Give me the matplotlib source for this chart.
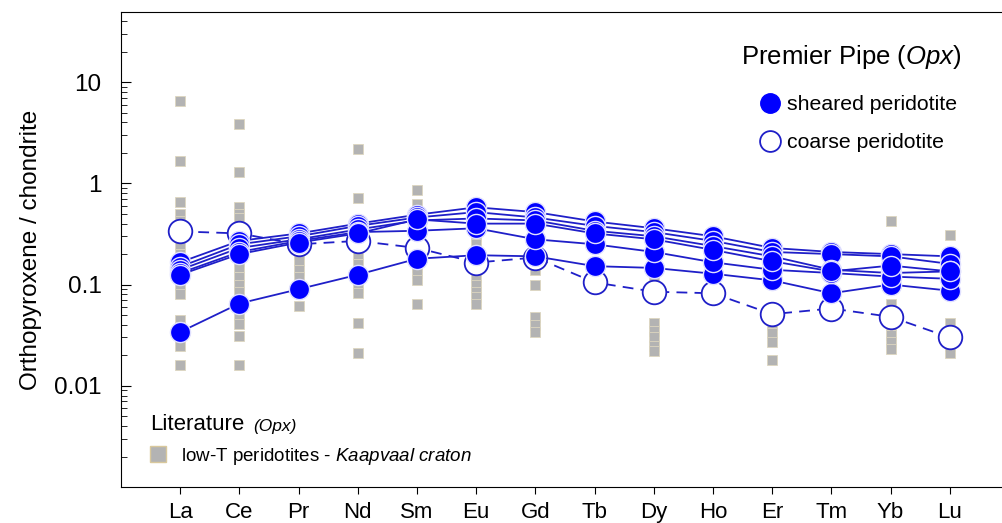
import matplotlib
matplotlib.use("Agg")
import matplotlib.pyplot as plt
from matplotlib.lines import Line2D

plt.rcParams['font.family'] = ['Liberation Sans', 'DejaVu Sans']
plt.rcParams['mathtext.fontset'] = 'custom'
plt.rcParams['mathtext.rm'] = 'Liberation Sans'
plt.rcParams['mathtext.it'] = 'Liberation Sans:italic'

elements = ["La", "Ce", "Pr", "Nd", "Sm", "Eu", "Gd", "Tb", "Dy", "Ho", "Er", "Tm", "Yb", "Lu"]

# literature low-T peridotites (Kaapvaal), values per element
lit_La = [6.5, 1.65, 0.65, 0.5, 0.42, 0.3, 0.25, 0.2, 0.16, 0.14, 0.12, 0.1, 0.081, 0.045, 0.038, 0.03, 0.025, 0.016]
lit_Ce = [3.9, 1.3, 0.58, 0.5, 0.45, 0.35, 0.3, 0.25, 0.2, 0.17, 0.15, 0.12, 0.1, 0.085, 0.07, 0.06, 0.05, 0.041, 0.031, 0.016]
lit_Pr = [0.32, 0.28, 0.25, 0.2, 0.17, 0.14, 0.12, 0.1, 0.09, 0.062]
lit_Nd = [2.2, 0.72, 0.4, 0.35, 0.3, 0.25, 0.2, 0.16, 0.13, 0.11, 0.095, 0.082, 0.042, 0.021]
lit_Sm = [0.85, 0.62, 0.5, 0.42, 0.35, 0.28, 0.22, 0.18, 0.15, 0.13, 0.11, 0.065]
lit_Eu = [0.3, 0.25, 0.2, 0.17, 0.14, 0.12, 0.1, 0.085, 0.075, 0.065]
lit_Gd = [0.19, 0.14, 0.1, 0.048, 0.04, 0.034]
lit_Tb = []
lit_Dy = [0.12, 0.042, 0.035, 0.03, 0.025, 0.022]
lit_Ho = []
lit_Er = [0.055, 0.04, 0.033, 0.027, 0.018]
lit_Tm = []
lit_Yb = [0.42, 0.13, 0.065, 0.05, 0.04, 0.032, 0.027, 0.023]
lit_Lu = [0.31, 0.085, 0.042, 0.035, 0.03, 0.025, 0.021]
literature = [lit_La, lit_Ce, lit_Pr, lit_Nd, lit_Sm, lit_Eu, lit_Gd,
              lit_Tb, lit_Dy, lit_Ho, lit_Er, lit_Tm, lit_Yb, lit_Lu]

# Premier Pipe opx, sheared peridotites
sheared_1 = [0.034, 0.065, 0.09, 0.125, 0.18, 0.195, 0.19, 0.152, 0.146, 0.128, 0.11, 0.082, 0.1, 0.087]
sheared_2 = [0.166, 0.27, 0.32, 0.40, 0.49, 0.58, 0.52, 0.42, 0.36, 0.30, 0.23, 0.21, 0.20, 0.19]
sheared_3 = [0.15, 0.25, 0.30, 0.38, 0.46, 0.52, 0.46, 0.38, 0.33, 0.27, 0.21, 0.20, 0.19, 0.16]
sheared_4 = [0.14, 0.23, 0.28, 0.35, 0.43, 0.45, 0.43, 0.34, 0.30, 0.24, 0.19, 0.14, 0.13, 0.135]
sheared_5 = [0.13, 0.21, 0.27, 0.33, 0.34, 0.36, 0.28, 0.25, 0.21, 0.166, 0.14, 0.13, 0.12, 0.114]
sheared_6 = [0.125, 0.20, 0.26, 0.32, 0.44, 0.40, 0.40, 0.32, 0.28, 0.22, 0.17, 0.135, 0.154, 0.135]
sheared = [sheared_1, sheared_2, sheared_3, sheared_4, sheared_5, sheared_6]

# coarse peridotite
coarse = [0.335, 0.32, 0.25, 0.27, 0.23, 0.165, 0.185, 0.105, 0.085, 0.082, 0.051, 0.058, 0.048, 0.030]

xpos = list(range(1, len(elements) + 1))
line_col = "#1f1fc8"
blue = "#0000ff"

fig = plt.figure(figsize=(10.02, 5.23), dpi=100)
ax = fig.add_axes([121 / 1002, 36 / 523, 888 / 1002, 475 / 523])

for i, vals in enumerate(literature):
    if vals:
        ax.plot([xpos[i]] * len(vals), vals, ls="none", marker="s", ms=7.5,
                mfc="#b3b3b3", mec="#ddd6c0", mew=0.6, zorder=2)

ax.plot(xpos, coarse, ls=(0, (6, 4)), color=line_col, lw=1.3, marker="o", ms=17,
        mfc="white", mec=line_col, mew=1.3, zorder=3)
for s in sheared:
    ax.plot(xpos, s, color=line_col, lw=1.3, marker="o", ms=14.5,
            mfc=blue, mec="#e0e0ff", mew=1.0, zorder=4)

ax.set_yscale("log")
ax.set_ylim(0.001, 49.3)
ax.set_xlim(0, 15)
ax.set_xticks(xpos)
ax.set_xticklabels(elements, fontsize=16)
ax.set_yticks([0.01, 0.1, 1, 10])
ax.set_yticklabels(["0.01", "0.1", "1", "10"], fontsize=17.5)
ax.tick_params(axis="y", which="major", direction="in", length=7, pad=14)
ax.tick_params(axis="y", which="minor", direction="in", length=4)
ax.tick_params(axis="x", direction="out", length=5, pad=6)
ax.spines["right"].set_visible(False)
ax.set_ylabel("Orthopyroxene / chondrite", fontsize=17.5, labelpad=9)

h_sh = Line2D([], [], ls="none", marker="o", ms=14, mfc=blue, mec=blue)
h_co = Line2D([], [], ls="none", marker="o", ms=15, mfc="white", mec=line_col, mew=1.3)
leg1 = ax.legend([h_sh, h_co], ["sheared peridotite", "coarse peridotite"],
                 loc="upper left", bbox_to_anchor=(757 / 1002, 1 - 95 / 523),
                 bbox_transform=fig.transFigure, frameon=False, fontsize=15.3,
                 handletextpad=0.2, labelspacing=0.9, handlelength=1.2,
                 borderpad=0, borderaxespad=0)
ax.add_artist(leg1)
fig.text(741 / 1002, 1 - 57 / 523, r"Premier Pipe $\mathit{(Opx)}$", fontsize=18.5,
         va="center", ha="left")

h_lit = Line2D([], [], ls="none", marker="s", ms=11, mfc="#b3b3b3", mec="#d9c89c", mew=1)
ax.legend([h_lit], [r"low-T peridotites - $\mathit{Kaapvaal\ craton}$"],
          loc="upper left", bbox_to_anchor=(149 / 1002, 1 - 446 / 523),
          bbox_transform=fig.transFigure, frameon=False, fontsize=13.5,
          handletextpad=0.7, handlelength=1.0, borderpad=0, borderaxespad=0)
fig.text(150 / 1002, 1 - 425 / 523, "Literature", fontsize=16, va="center", ha="left")
fig.text(253 / 1002, 1 - 426 / 523, "(Opx)", fontsize=12.5, style="italic",
         va="center", ha="left")

fig.savefig("out.png", dpi=100)
